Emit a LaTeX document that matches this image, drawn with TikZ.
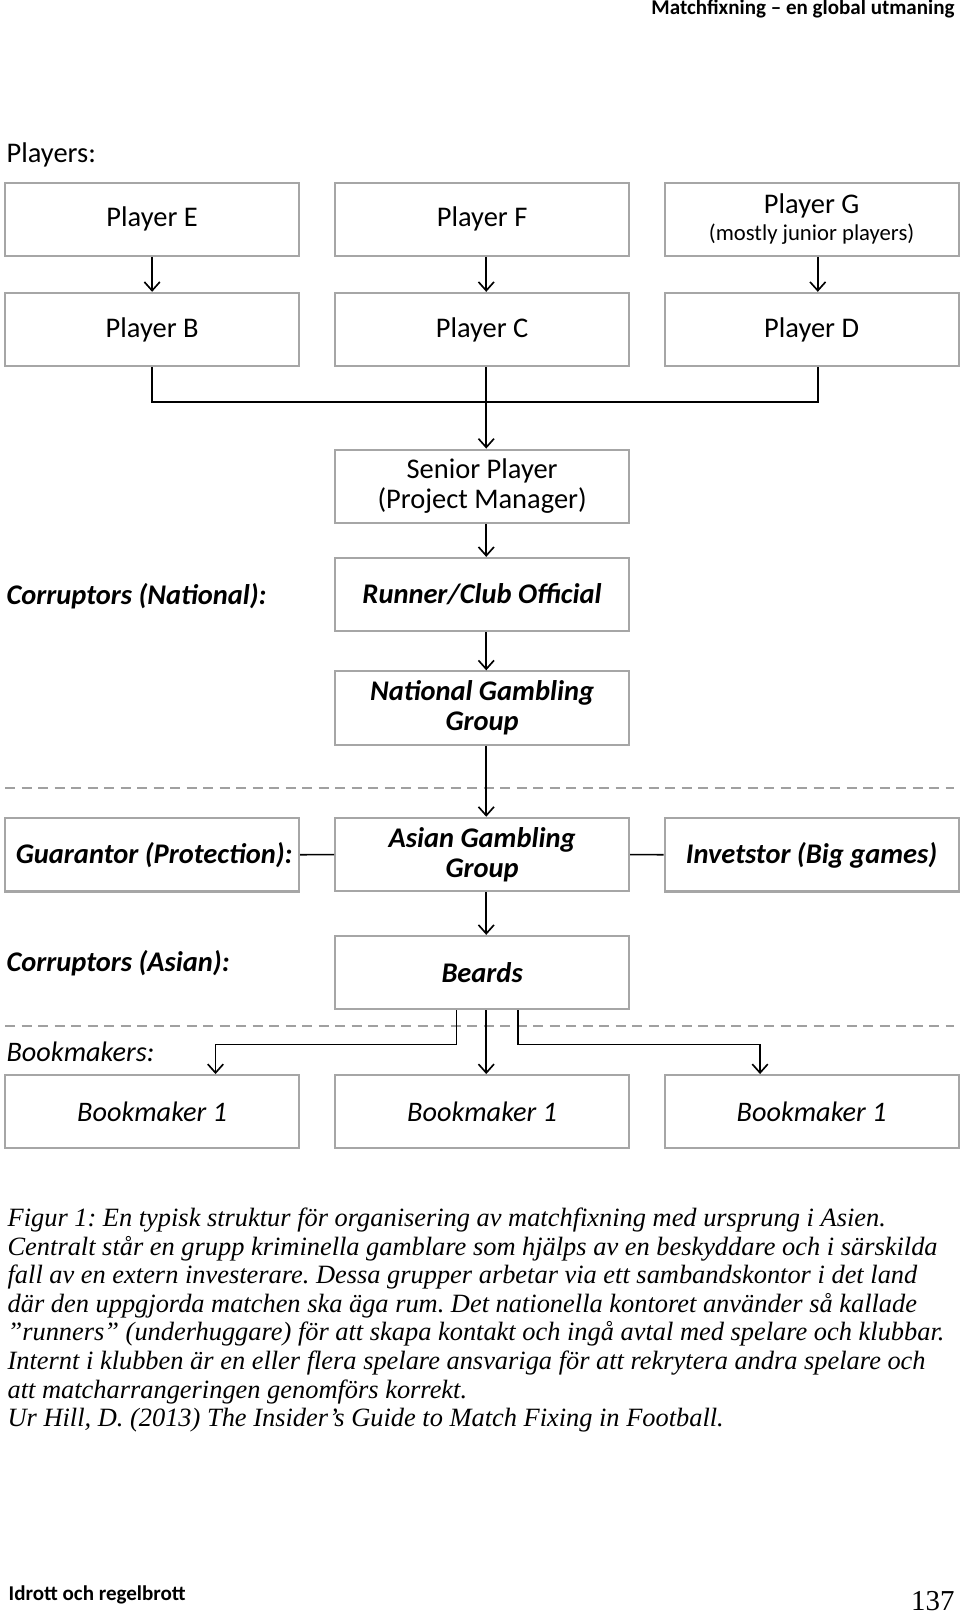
\documentclass[tikz,border=0pt]{standalone}
\usepackage{fontspec}
\setmainfont{Carlito}
\newfontfamily\capfont{Liberation Serif}
\usetikzlibrary{arrows.meta,calc}
\definecolor{boxgrey}{HTML}{A6A6A6}
\definecolor{dashgrey}{HTML}{A0A0A0}
\frenchspacing
\begin{document}
\begin{tikzpicture}[x=0.5pt,y=-0.5pt,
 box/.style={draw=boxgrey,line width=1pt,minimum width=142.5pt,minimum height=35.5pt,inner sep=0pt,align=center,font=\fontsize{13.8}{14}\selectfont},
 bi/.style={font=\fontsize{13.8}{14}\selectfont\bfseries\itshape},
 it/.style={font=\fontsize{13.7}{14}\selectfont\itshape},
 arr/.style={line width=0.8pt,-{Straight Barb[length=4.2pt,width=7.5pt,line width=0.8pt]}},
 conn/.style={line width=0.8pt},
 sep/.style={draw=dashgrey,line width=1.2pt,dash pattern=on 5pt off 3pt},
 lab/.style={anchor=base west,inner sep=0pt,font=\fontsize{13.8}{14}\selectfont}]
\useasboundingbox (0,0) rectangle (931,1568);
% header / footer
\node[anchor=base east,inner sep=0pt,font=\fontsize{10.2}{11}\selectfont\bfseries] (hdr) at (926,14) {Matchfixning – en global utmaning};
\node[anchor=base west,inner sep=0pt,font=\fontsize{10.2}{11}\selectfont\bfseries] (ftl) at (8,1552) {Idrott och regelbrott};
\node[anchor=base east,inner sep=0pt,font=\capfont\fontsize{14}{16}\selectfont] (ftr) at (926,1562) {137};
% labels
\node[lab] (lplayers) at (6,158) {Players:};
\node[lab,bi] (lcn) at (6,586) {Corruptors (National):};
\node[lab,bi] (lca) at (6,942) {Corruptors (Asian):};
\node[lab,it] (lbk) at (6,1029) {Bookmakers:};
% separators
\draw[sep] (5,764) -- (925,764);
\draw[sep] (5,995) -- (925,995);
% boxes
\node[box] (e) at (147.5,212.5) {Player E};
\node[box] (f) at (467.5,212.5) {Player F};
\node[box] (g) at (787,212.5) {Player G\\[-1pt]{\fontsize{11}{12}\selectfont(mostly junior players)}};
\node[box] (b) at (147.5,319.5) {Player B};
\node[box] (c) at (467.5,319.5) {Player C};
\node[box] (d) at (787,319.5) {Player D};
\node[box] (sp) at (467.5,471.5) {Senior Player\\[0.5pt](Project Manager)\vphantom{g}};
\node[box,bi] (rc) at (467.5,576.5) {Runner/Club Official};
\node[box,bi] (ng) at (467.5,686.5) {National Gambling\\[0.5pt]Group};
\node[box,bi] (guar) at (147.5,829) {\hspace{2pt}Guarantor (Protection):};
\node[box,bi] (asian) at (467.5,828.5) {Asian Gambling\\[0.5pt]Group};
\node[box,bi] (inv) at (787,829) {Invetstor (Big games)};
\node[box,bi] (beards) at (467.5,943) {Beards};
\node[box,it] (bk1) at (147.5,1078) {Bookmaker 1};
\node[box,it] (bk2) at (467.5,1078) {Bookmaker 1};
\node[box,it] (bk3) at (787,1078) {Bookmaker 1};
% connectors
\draw[arr] (e) -- (b);
\draw[arr] ([xshift=2pt]f.south) -- ([xshift=2pt]c.north);
\draw[arr] ([xshift=3pt]g.south) -- ([xshift=3pt]d.north);
\coordinate (j) at (471.5,390);
\draw[conn] (b.south) |- (j) -| ([xshift=3pt]d.south);
\draw[arr] ([xshift=2pt]c.south) -- ([xshift=2pt]sp.north);
\draw[arr] ([xshift=2pt]sp.south) -- ([xshift=2pt]rc.north);
\draw[arr] ([xshift=2pt]rc.south) -- ([xshift=2pt]ng.north);
\draw[arr] ([xshift=2pt]ng.south) -- ([xshift=2pt]asian.north);
\draw[arr] ([xshift=2pt]asian.south) -- ([xshift=2pt]beards.north);
\draw[conn] (guar) -- (asian);
\draw[conn] (asian) -- (inv);
\coordinate (hl) at (0,1013);
\coordinate (bl) at ($(beards.south)+(-25,0)$);
\coordinate (br) at ($(beards.south)+(35,0)$);
\draw[arr] (bl) -- (bl |- hl) -| ($(bk1.north)+(61.5,0)$);
\draw[arr] ([xshift=2pt]beards.south) -- ([xshift=2pt]bk2.north);
\draw[arr] (br) -- (br |- hl) -| ($(bk3.north)+(-50,0)$);
% caption
\node[anchor=north west,inner sep=0pt,align=left,font=\capfont\itshape\fontsize{12.8}{13.85}\selectfont] (cap) at (7,1171) {%
Figur 1: En typisk struktur för organisering av matchfixning med ursprung i Asien.\\
Centralt står en grupp kriminella gamblare som hjälps av en beskyddare och i särskilda\\
fall av en extern investerare. Dessa grupper arbetar via ett sambandskontor i det land\\
där den uppgjorda matchen ska äga rum. Det nationella kontoret använder så kallade\\
”runners” (underhuggare) för att skapa kontakt och ingå avtal med spelare och klubbar.\\
Internt i klubben är en eller flera spelare ansvariga för att rekrytera andra spelare och\\
att matcharrangeringen genomförs korrekt.\\
Ur Hill, D. (2013) The Insider’s Guide to Match Fixing in Football.};
\end{tikzpicture}
\end{document}
